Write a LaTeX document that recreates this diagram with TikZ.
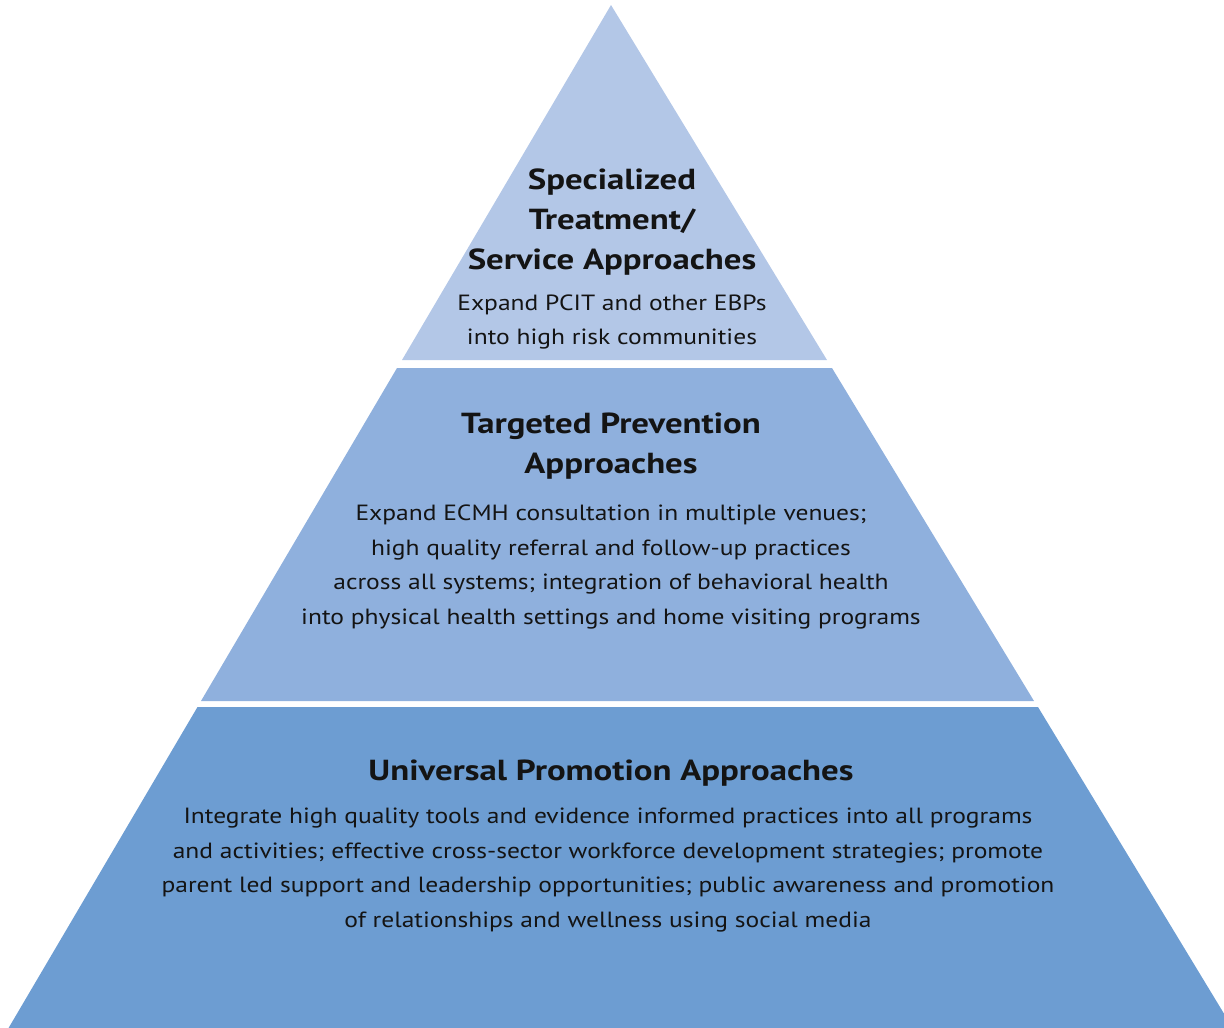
\documentclass[tikz,border=0pt]{standalone}
\usepackage{fontspec}
\setmainfont{PT Sans}[FakeStretch=1.16, BoldFeatures={FakeStretch=1.2}]

\definecolor{tiertop}{RGB}{179,199,231}
\definecolor{tiermid}{RGB}{143,176,221}
\definecolor{tierbase}{RGB}{109,157,210}
\definecolor{ink}{RGB}{20,20,20}

\begin{document}
\begin{tikzpicture}[x=1pt, y=-1pt,
    heading/.style={text=ink, font=\bfseries\fontsize{29}{40}\selectfont, align=center, inner sep=0pt},
    blurb/.style={text=ink, font=\fontsize{22}{34.5}\selectfont, align=center, inner sep=0pt}
    ]
    \useasboundingbox (0,0) rectangle (1224,1028);
    \clip (0,0) rectangle (1224,1028);

    % corners of the three tiers
    \coordinate (apex) at (611,5);
    \coordinate (t1) at (402,360);
    \coordinate (t2) at (827,360);
    \coordinate (m1) at (397,368);
    \coordinate (m2) at (832,368);
    \coordinate (m3) at (1034,701);
    \coordinate (m4) at (201,701);
    \coordinate (b1) at (197.5,707);
    \coordinate (b2) at (1038,707);
    \coordinate (b3) at (1240,1040);
    \coordinate (b4) at (1.5,1040);

    \fill [tiertop] (apex) -- (t2) -- (t1) -- cycle;
    \fill [tiermid] (m1) -- (m2) -- (m3) -- (m4) -- cycle;
    \fill [tierbase] (b1) -- (b2) -- (b3) -- (b4) -- cycle;

    % top tier
    \node [heading] (toptitle) at (612,222) {Specialized\\Treatment/\\Service Approaches};
    \node [blurb] (toptext) at (612,322) {Expand PCIT and other EBPs\\into high risk communities};

    % middle tier
    \node [heading] (midtitle) at (611,446) {Targeted Prevention\\Approaches};
    \node [blurb] (midtext) at (611,567) {Expand ECMH consultation in multiple venues;\\
        high quality referral and follow-up practices\\
        across all systems; integration of behavioral health\\
        into physical health settings and home visiting programs};

    % base tier
    \node [heading] (basetitle) at (611,773) {Universal Promotion Approaches};
    \node [blurb] (basetext) at (608,870) {Integrate high quality tools and evidence informed practices into all programs\\
        and activities; effective cross-sector workforce development strategies; promote\\
        parent led support and leadership opportunities; public awareness and promotion\\
        of relationships and wellness using social media};
\end{tikzpicture}
\end{document}
